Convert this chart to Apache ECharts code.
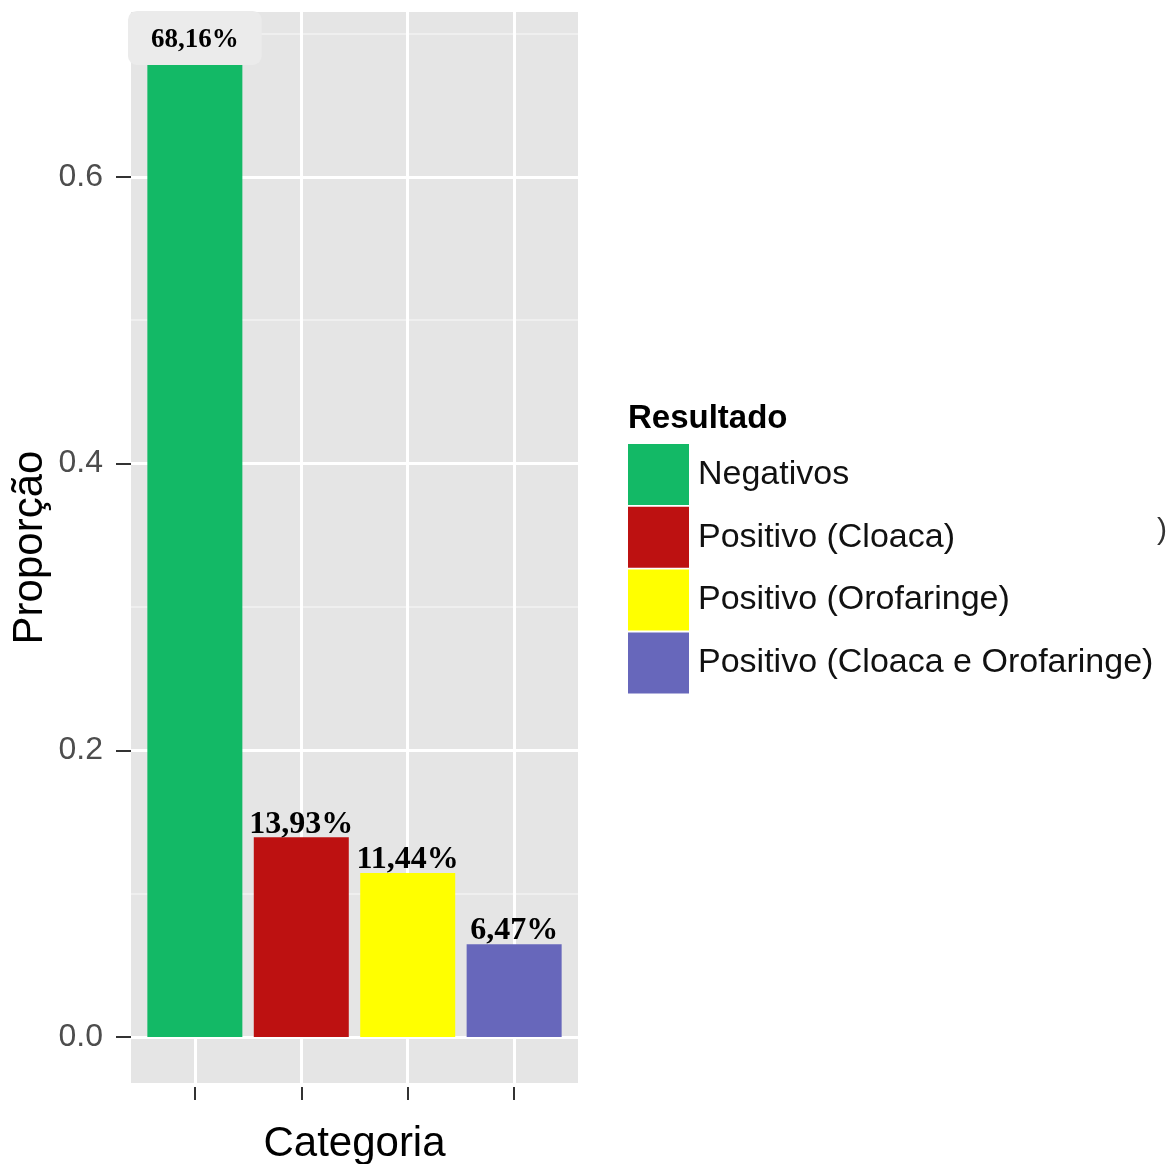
<!DOCTYPE html>
<html>
<head>
<meta charset="utf-8">
<script src="https://cdn.jsdelivr.net/npm/echarts@6/dist/echarts.min.js"></script>
<style>
html,body{margin:0;padding:0;background:#fff;}
#chart{width:1171px;height:1164px;}
</style>
</head>
<body>
<div id="chart"></div>
<script>
// ---- data ----
const categories = ['Negativos', 'Positivo (Cloaca)', 'Positivo (Orofaringe)', 'Positivo (Cloaca e Orofaringe)'];
const positions = [1, 2, 3, 4];
const proportions = [0.6816, 0.1393, 0.1144, 0.0647];
const pctLabels = ['68,16%', '13,93%', '11,44%', '6,47%'];
const yTicks = [0, 0.2, 0.4, 0.6];
const yMinor = [0.1, 0.3, 0.5, 0.7];
const yTickLabels = ['0.0', '0.2', '0.4', '0.6'];
const colors = ['#13B966', '#BD1111', '#FFFF00', '#6767BB'];

const chart = echarts.init(document.getElementById('chart'), null, {renderer: 'canvas'});

const barSeries = categories.map((name, i) => ({
  name: name,
  type: 'bar',
  z: 3,
  barWidth: 95,
  barGap: '-100%',
  itemStyle: {color: colors[i]},
  data: [[positions[i], proportions[i]]],
  label: i === 0 ? {
    show: true,
    position: 'top',
    distance: -5,
    formatter: () => pctLabels[i],
    fontFamily: 'Liberation Serif',
    fontWeight: 'bold',
    fontSize: 27,
    lineHeight: 28,
    color: '#000',
    backgroundColor: '#EBEBEB',
    padding: [15, 23, 11, 23],
    borderRadius: 9
  } : {
    show: true,
    position: 'top',
    distance: -3,
    formatter: () => pctLabels[i],
    fontFamily: 'Liberation Serif',
    fontWeight: 'bold',
    fontSize: 32,
    lineHeight: 32,
    color: '#000'
  }
}));

const gridSeries = {
  name: '_grid',
  type: 'line',
  z: 1,
  silent: true,
  showSymbol: false,
  lineStyle: {opacity: 0},
  data: [[1, 0]],
  markLine: {
    z: 1,
    silent: true,
    symbol: 'none',
    label: {show: false},
    animation: false,
    data: [
      ...yMinor.map(v => ({yAxis: v, lineStyle: {color: '#F2F2F2', width: 1.5, type: 'solid'}})),
      ...yTicks.map(v => ({yAxis: v, lineStyle: {color: '#FFFFFF', width: 3, type: 'solid'}})),
      ...positions.map(v => ({xAxis: v, lineStyle: {color: '#FFFFFF', width: 3, type: 'solid'}}))
    ]
  }
};

const option = {
  animation: false,
  backgroundColor: '#FFFFFF',
  title: {
    text: 'Resultado',
    left: 628,
    top: 402,
    padding: 0,
    textStyle: {fontFamily: 'Liberation Sans', fontWeight: 'bold', fontSize: 33, color: '#000'}
  },
  legend: {
    data: categories,
    orient: 'vertical',
    left: 628,
    top: 444,
    padding: 0,
    icon: 'rect',
    itemWidth: 61,
    itemHeight: 61,
    itemGap: 1.8,
    selectedMode: false,
    textStyle: {fontFamily: 'Liberation Sans', fontSize: 34, color: '#111', padding: [6, 0, 0, 4]}
  },
  grid: {
    left: 131, right: 593, top: 12, bottom: 81,
    outerBoundsMode: 'none',
    containLabel: false,
    show: true, backgroundColor: '#E5E5E5', borderWidth: 0
  },
  xAxis: {
    type: 'value',
    min: 0.4,
    max: 4.6,
    offset: 4,
    splitLine: {show: false},
    axisLine: {show: false, onZero: false},
    axisTick: {show: true, customValues: positions, length: 13, lineStyle: {color: '#333', width: 2}},
    axisLabel: {show: true, customValues: positions, formatter: () => ' '},
    name: 'Categoria',
    nameLocation: 'middle',
    nameGap: 36,
    nameTextStyle: {fontFamily: 'Liberation Sans', fontSize: 42, color: '#000'}
  },
  yAxis: {
    type: 'value',
    min: -0.0321,
    max: 0.715,
    splitLine: {show: false},
    axisLine: {show: false, onZero: false},
    axisTick: {show: true, customValues: yTicks, length: 15, lineStyle: {color: '#333', width: 2}},
    axisLabel: {
      show: true, customValues: yTicks, margin: 28,
      formatter: v => { const k = yTicks.findIndex(t => Math.abs(t - v) < 1e-9); return k >= 0 ? yTickLabels[k] : ''; },
      fontFamily: 'Liberation Sans', fontSize: 32, color: '#4D4D4D'
    },
    name: 'Proporção',
    nameLocation: 'middle',
    nameGap: 80,
    nameTextStyle: {fontFamily: 'Liberation Sans', fontSize: 42, color: '#000'}
  },
  graphic: [{
    type: 'text', left: 1157, top: 516, silent: true,
    style: {text: ')', fontFamily: 'Liberation Sans', fontSize: 30, fill: '#333'}
  }],
  series: [gridSeries, ...barSeries]
};

chart.setOption(option);
</script>
</body>
</html>
